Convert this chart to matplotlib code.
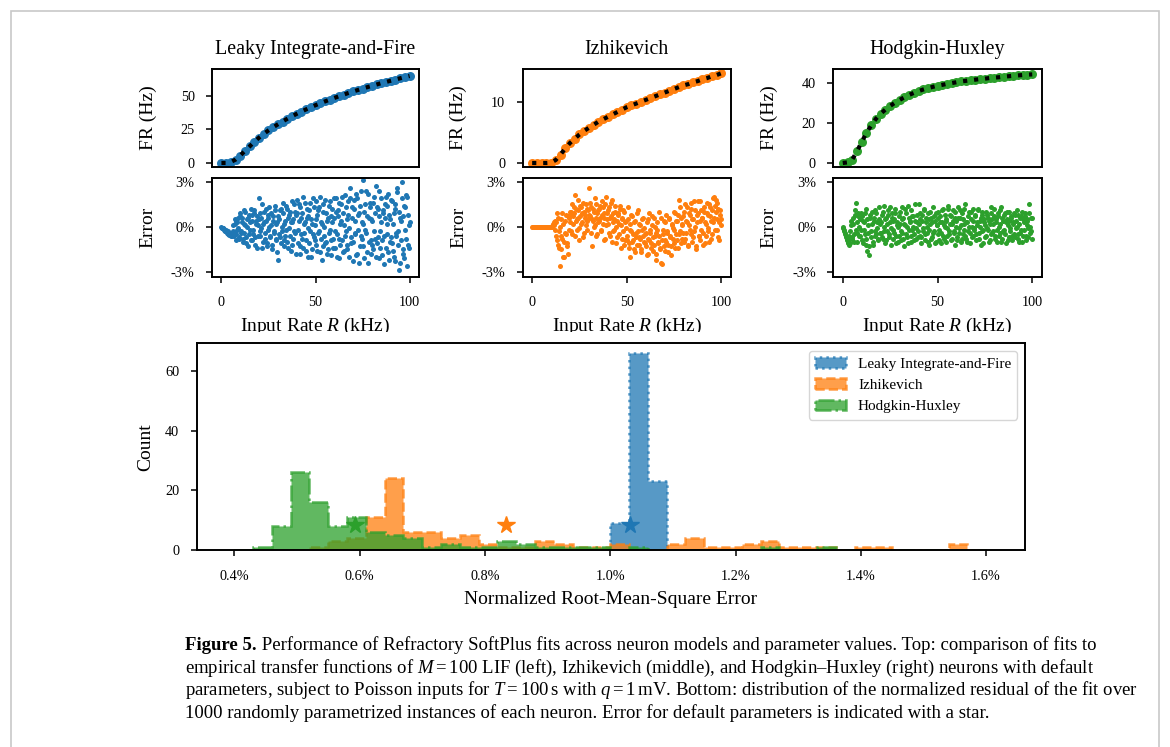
import numpy as np
import matplotlib
matplotlib.use("Agg")
import matplotlib.pyplot as plt
from matplotlib.ticker import FuncFormatter, FixedLocator
from matplotlib.patches import Rectangle
from matplotlib.transforms import Bbox, TransformedBbox

plt.rcParams['font.family'] = ['Liberation Serif', 'DejaVu Serif']
plt.rcParams['mathtext.fontset'] = 'custom'
plt.rcParams['mathtext.rm'] = 'Liberation Serif'
plt.rcParams['mathtext.it'] = 'Liberation Serif:italic'
plt.rcParams['mathtext.bf'] = 'Liberation Serif:bold'

# ---------------- data ----------------
MODELS = ["Leaky Integrate-and-Fire", "Izhikevich", "Hodgkin-Huxley"]
COLORS = ["#1f77b4", "#ff7f0e", "#2ca02c"]
HIST_STYLES = [":", "--", "-."]

# input-rate grid (kHz) for the transfer-function curves
FIT_RATE = np.linspace(0, 100, 41)
FR_LIF = [0, 0, 0.7, 2.5, 5.5, 9, 12.3, 15.8, 18.8, 21.6, 24.2, 26.5, 28.7, 30.8,
          32.8, 34.7, 36.5, 38.2, 39.8, 41.4, 42.9, 44.3, 45.7, 47, 48.3, 49.6,
          50.8, 52, 53.1, 54.2, 55.3, 56.3, 57.3, 58.3, 59.3, 60.2, 61.1, 62,
          62.9, 63.8, 64.6]
FR_IZH = [0, 0, 0, 0, 0.05, 0.5, 1.4, 2.4, 3.3, 4.0, 4.7, 5.3, 5.8, 6.3, 6.8,
          7.2, 7.6, 8.0, 8.4, 8.8, 9.2, 9.5, 9.8, 10.1, 10.4, 10.7, 11.0, 11.3,
          11.6, 11.9, 12.2, 12.5, 12.8, 13.0, 13.3, 13.5, 13.8, 14.0, 14.3,
          14.5, 14.8]
FR_HH = [0, 0.3, 1.7, 5.8, 10.5, 15, 18.7, 22, 24.5, 26.6, 28.4, 30, 31.4,
         32.7, 33.9, 34.9, 35.8, 36.6, 37.3, 37.9, 38.5, 38.9, 39.4, 39.8,
         40.2, 40.6, 40.9, 41.2, 41.5, 41.8, 42.0, 42.3, 42.5, 42.7, 43.0,
         43.2, 43.4, 43.6, 43.8, 44.0, 44.1]

# input-rate grids (kHz) for the residuals (two interleaved sample sets)
ERR_RATE_A = np.linspace(0, 100, 201)
ERR_RATE_B = np.linspace(0.25, 99.75, 200)
ERR_LIF_A = [
    0.0, -0.1, -0.1, -0.2, -0.3, -0.2, -0.4, -0.3, -0.5, -0.4, -0.6, -0.5, -0.3, -0.6, 0.2, -0.5, 0.4, -0.2, 0.6, -0.8,
    0.9, -0.4, 0.3, -1.0, 1.1, 0.1, -0.7, 0.5, -1.3, 0.8, -0.2, 1.2, -0.9, 0.4, -0.5, 0.9, -1.2, 0.2, 0.7, -0.6,
    1.9, -0.3, 0.6, -1.4, 0.2, 1.0, -0.8, 0.4, -1.1, 0.8, -0.2, 1.3, -0.6, 0.1, -1.5, 0.7, -0.4, 1.1, -0.9, 0.3,
    -2.2, 0.5, -0.7, 1.2, -0.3, 0.9, -1.3, 0.2, -0.6, 1.4, -1.0, 0.6, -0.1, 1.0, -1.6, 0.3, -0.8, 1.5, -0.4, 0.8,
    1.8, -1.1, 0.4, -1.8, 1.3, -0.5, 0.9, -1.4, 0.2, 1.6, -0.9, 0.6, -2.0, 1.1, -0.3, 0.5, -1.5, 1.9, -0.7, 0.1,
    1.7, -1.2, 0.8, -0.4, 1.3, -1.7, 0.3, -2.2, 1.0, -0.6, 1.8, -1.0, 0.4, -1.5, 1.4, -0.2, 0.7, -1.9, 1.2, -0.8,
    0.6, -1.4, 1.9, -0.5, 1.1, -2.1, 0.2, 1.5, -0.9, 0.9, -1.6, 2.1, -0.3, 0.5, -1.2, 1.7, -2.0, 2.6, -0.7, 1.3,
    -1.0, 1.8, -0.4, 2.2, -1.8, 0.8, -2.4, 1.4, -0.6, 0.3, 3.1, -1.3, 1.0, -0.2, 2.4, -1.7, -2.4, 0.6, 1.6, -0.9,
    0.4, -1.5, 2.0, -0.8, 2.7, -1.1, 1.2, -2.1, 0.7, -0.3, 1.9, -1.9, 0.9, -0.6, 1.5, -1.4, 0.2, 2.2, -2.2, 0.5,
    -0.7, 1.7, -1.6, 0.9, -2.3, 1.2, -0.4, 2.3, -1.2, -2.9, 0.6, -0.9, 3.0, -1.8, 1.4, -0.2, 2.1, -2.6, 0.8, -1.4,
    0.3]
ERR_LIF_B = [
    -0.05, -0.1, -0.15, -0.25, -0.3, -0.35, -0.45, -0.4, -0.55, -0.5, -0.45, -0.6, 0.1, -0.4, 0.5, -0.9, 0.3, -0.1, -0.7, 0.7,
    -0.3, 0.6, -0.8, 0.2, -0.4, 1.0, -1.1, 0.0, 0.6, -0.5, 0.3, -0.9, 0.8, -0.2, 1.1, -0.7, 0.4, -1.4, 0.1, 0.5,
    -0.6, 0.9, -0.1, 1.5, -1.0, 0.3, -0.4, 1.2, -1.3, 0.6, 0.0, -0.7, 0.9, -1.2, 0.4, -0.3, 1.4, -0.8, 0.2, -1.7,
    0.7, -0.5, 1.1, -1.1, 0.0, 1.6, -0.9, 0.4, -0.2, 1.2, -1.4, 0.8, -0.6, 0.3, 1.7, -1.2, 0.5, -0.3, 1.0, -1.8,
    0.9, -0.2, 1.5, -1.3, 0.6, -0.8, 2.0, -0.4, 0.3, -1.6, 1.2, -0.1, 0.7, -1.1, 1.6, -2.0, 0.2, -0.5, 1.3, -0.9,
    0.5, -1.6, 1.1, -0.3, 2.0, -0.8, 0.2, -1.3, 1.5, 0.0, -1.1, 0.9, -1.8, 0.6, -0.4, 1.7, -0.9, 0.3, -1.4, 1.9,
    -0.3, 1.0, -2.0, 0.7, -0.8, 1.6, -1.2, 0.4, 2.0, -1.7, 0.1, -0.6, 1.3, -1.5, 0.8, -0.1, 1.9, -1.1, 0.6, -2.3,
    1.2, -0.5, 0.4, -1.9, 1.9, -0.2, 0.9, -1.3, 2.4, -0.8, 0.2, -2.1, 1.5, -0.4, 0.7, 2.2, -1.0, 1.3, -1.8, 0.5,
    -1.2, 1.6, -0.3, 0.9, -2.0, 1.3, -0.7, 2.4, -1.4, 0.3, -0.9, 1.1, -2.5, 0.6, 2.0, -0.5, 1.4, -1.7, 0.8, -1.0,
    1.8, -1.1, 0.2, -2.0, 1.5, -0.6, 2.6, -0.3, 1.0, -2.4, 0.4, 1.9, -1.5, 0.7, -2.1, 1.3, -0.8, 2.0, -1.2, 0.1]
ERR_IZH_A = [
    0.0, 0.0, 0.0, 0.0, 0.0, 0.0, 0.0, 0.0, 0.0, 0.0, 0.0, 0.0, 0.0, 0.0, 0.0, 0.0, 0.0, 0.0, 0.0, 0.0,
    0.0, 0.0, 0.1, 0.3, 0.4, -0.6, 0.9, -1.2, -0.3, -2.6, 0.5, -1.5, -0.8, 0.2, -2.0, -0.4, 0.8, -1.1, -1.8, 0.6,
    0.3, 1.0, -0.5, 0.7, 1.3, 2.1, 0.4, -0.2, 1.1, 0.6, -0.9, 1.4, 0.2, 0.9, 1.6, -0.4, 0.8, 0.1, 1.2, 0.5,
    2.6, 0.7, 1.3, -1.3, 0.4, 1.0, 0.1, 1.5, -0.6, 0.9, 0.3, 1.2, 0.6, -0.3, 1.7, 0.2, 0.9, -0.8, 2.0, 0.5,
    1.1, -0.4, 0.6, 1.6, -1.0, 0.3, 0.9, -0.2, 1.4, 0.0, -0.7, 0.8, 0.2, 1.2, -1.4, 0.5, -0.3, 1.0, -0.9, 0.4,
    -0.6, 1.3, -1.1, 0.2, -2.0, -0.3, 0.7, -0.9, -1.5, 0.4, -0.4, -1.2, 1.1, -0.7, 0.1, -1.7, -0.2, 0.6, -1.0, -0.5,
    -1.3, 0.3, -0.8, -1.8, 0.9, -0.4, -1.1, 0.1, -1.6, 0.6, -0.6, -2.2, -0.2, -1.0, 1.0, -1.4, -2.4, -2.5, -0.5, 0.4,
    -0.9, -1.6, 0.8, -0.3, -1.2, 0.5, -0.7, -1.9, 0.2, -0.1, -1.1, 0.9, -0.5, 0.4, -1.4, 1.8, -0.3, 0.6, -0.8, 0.1,
    0.7, -1.0, 1.5, -0.4, 0.3, -1.3, 0.9, -0.2, 1.2, 0.5, -0.7, 1.7, 0.0, -1.5, 0.8, 1.7, -0.6, 0.4, -0.9, 1.1,
    0.6, -0.4, 1.3, -1.1, 0.2, 0.9, -0.3, 1.5, 0.7, -0.8, 1.1, 0.3, 2.0, 1.4, 1.8, -0.2, 0.5, 1.2, -0.9, 0.8,
    0.5]
ERR_IZH_B = [
    0.0, 0.0, 0.0, 0.0, 0.0, 0.0, 0.0, 0.0, 0.0, 0.0, 0.0, 0.0, 0.0, 0.0, 0.0, 0.0, 0.0, 0.0, 0.0, 0.0,
    0.0, 0.05, 0.2, 0.1, -0.2, 0.3, -0.9, 0.6, -1.4, 0.0, -0.6, 0.9, -2.0, -1.0, 0.4, -0.5, -1.3, 0.7, -0.2, 1.0,
    0.8, -0.3, 1.5, 0.2, 0.9, -0.6, 1.2, 0.5, 1.8, -0.1, 0.7, 1.3, 0.3, -0.7, 1.0, 0.6, 1.5, -0.2, 0.4, 1.1,
    0.8, 1.6, -0.4, 0.5, 1.2, 0.0, 1.9, 0.6, -0.5, 1.1, 0.4, 1.4, -0.2, 0.8, 1.3, -0.9, 0.6, 1.5, 0.1, 0.9,
    0.2, 1.3, -0.6, 0.7, 1.8, -0.3, 0.5, 1.0, -1.1, 0.4, 0.9, -0.5, 1.4, 0.1, -0.8, 0.6, 1.1, -1.2, 0.3, -0.1,
    -0.9, 0.5, -1.4, -0.2, 0.8, -1.0, -0.5, 0.3, -1.7, -0.7, 0.9, -0.3, -1.2, 0.2, -0.8, -1.5, 0.5, -0.6, -0.1, -1.1,
    -0.4, -1.9, 0.5, -0.9, -0.2, -1.4, 0.7, -0.7, -1.2, 0.0, -1.8, -0.4, 0.3, -1.1, -0.6, -1.5, 0.6, -0.9, -0.2, -1.3,
    0.3, -1.0, -0.4, -1.7, 0.6, -0.6, -1.3, 0.1, -0.8, 1.0, -0.2, -1.4, 0.4, -0.9, 0.8, -0.5, 1.3, -1.1, 0.2, -0.4,
    1.0, -0.8, 0.4, 1.3, -1.2, 0.1, 0.8, -0.5, 1.6, -1.0, 0.5, -0.3, 1.1, -1.3, 0.3, 0.9, -0.6, 1.7, -0.2, 0.6,
    -1.2, 1.0, 0.3, -0.6, 1.6, -0.1, 0.8, -1.0, 1.3, 0.4, -0.5, 1.9, 0.6, -0.2, 1.0, 1.6, -0.7, 0.3, 1.1, 0.1]
ERR_HH_A = [
    0.0, -0.2, -0.4, -0.6, -0.8, -1.1, -0.9, -1.2, -0.3, 0.4, -0.7, 0.2, -1.0, 0.8, 1.6, -0.4, 0.9, -0.6, 0.5, -0.2,
    0.7, -1.1, 0.3, -0.5, 1.2, -0.8, -1.6, 0.1, -1.9, 0.6, -0.3, 1.0, -1.2, 0.4, -0.6, 0.9, -0.1, -0.9, 1.3, 0.2,
    -0.4, 0.8, -0.8, 1.4, 0.0, -1.1, 0.6, -0.3, 1.1, -0.7, 0.3, -1.2, 0.9, -0.2, 0.5, 1.2, -0.6, 0.1, -1.0, 0.7,
    0.2, -0.9, 1.3, -0.4, 0.6, -1.3, 0.1, 0.9, -0.7, 1.4, -0.2, 0.4, -1.0, 0.7, 0.0, -0.5, 1.5, -0.8, 0.3, -0.3,
    1.5, -0.6, 0.5, -1.1, 0.8, -0.1, 1.1, -0.9, 0.3, -0.4, 0.9, -1.2, 0.2, 0.6, -0.7, 1.3, -0.3, 0.4, -1.0, 0.1,
    -0.5, 1.0, -0.2, 0.7, -1.1, 0.3, 1.2, -0.8, 0.0, 0.5, -0.6, 1.4, -0.3, 0.8, -0.9, 0.2, 1.1, -0.4, 0.6, -1.2,
    0.4, -0.7, 1.3, -0.1, 0.6, -1.0, 0.9, -0.5, 0.2, 1.5, -0.8, 0.3, -0.3, 1.0, -1.1, 0.5, 0.0, -0.6, 1.2, -0.2,
    0.7, -0.9, 0.1, 1.1, -0.4, 0.4, -1.2, 0.8, -0.2, 0.3, -0.7, 1.0, -0.1, 0.6, -1.0, 0.2, 0.9, -0.5, 0.5, -0.3,
    1.2, -0.6, 0.3, -1.0, 0.7, 0.0, -0.4, 1.3, -0.8, 0.4, -0.2, 0.9, -1.1, 0.5, 0.1, -0.7, 1.0, -0.3, 0.6, -0.9,
    0.3, -0.5, 0.8, -0.1, 1.1, -0.8, 0.2, -0.4, 0.7, -1.0, 0.5, -0.2, 0.9, -0.6, 0.1, 0.4, -0.7, 1.5, 0.0, -0.3,
    0.6]
ERR_HH_B = [
    -0.1, -0.3, -0.5, -0.7, -0.9, -1.0, -0.6, -1.1, 0.1, -0.8, 0.6, -0.5, 1.1, -0.2, 0.3, -1.0, 0.7, 0.0, -0.6, 0.9,
    -0.9, 0.4, -0.2, 0.9, -1.2, 0.5, -0.4, -1.3, 0.8, -0.7, 0.2, -1.0, 0.6, -0.3, 1.1, -0.5, 0.3, -0.8, 0.5, -0.4,
    0.3, -0.7, 1.0, -0.3, 0.5, -0.9, 0.2, 0.8, -0.5, 1.3, -0.1, 0.6, -0.8, 0.4, -0.4, 0.9, -1.1, 0.3, 0.0, -0.6,
    1.0, -0.3, 0.5, -0.8, 0.2, 1.2, -0.5, 0.0, -1.1, 0.6, 0.3, -0.6, 1.1, -0.2, 0.7, -0.9, 0.4, -0.1, 0.8, -0.7,
    0.2, 0.9, -0.7, 0.4, -0.3, 1.2, -0.5, 0.6, 0.0, -1.0, 0.5, -0.2, 1.0, -0.8, 0.3, -0.4, 0.7, -1.1, 0.9, 0.1,
    0.6, -0.9, 0.3, -0.4, 1.1, -0.6, 0.1, 0.8, -1.0, 0.4, -0.1, 1.2, -0.5, 0.2, 0.7, -0.8, 0.4, -0.3, 1.0, 0.0,
    -0.9, 0.6, -0.4, 1.1, 0.1, -0.8, 0.5, -0.2, 1.2, -0.6, 0.3, -1.0, 0.7, 0.0, -0.4, 1.0, -0.7, 0.4, -0.1, 0.8,
    -0.5, 0.3, 1.2, -0.8, 0.0, 0.6, -0.3, 1.0, -1.1, 0.5, 0.1, -0.6, 0.8, -0.2, 0.4, -0.9, 1.3, -0.4, 0.2, 0.7,
    -0.8, 0.5, -0.2, 0.9, -0.6, 1.1, 0.2, -1.0, 0.6, -0.3, 0.8, -0.5, 0.3, 1.0, -0.9, 0.4, -0.1, 0.7, -0.6, 0.2,
    0.9, -0.7, 0.4, 0.0, -0.5, 0.8, -1.0, 0.6, -0.2, 1.0, -0.6, 0.3, 0.7, -0.9, 0.5, -0.1, 0.9, -0.4, 0.6, -0.8]

FR_DATA = [FR_LIF, FR_IZH, FR_HH]
ERR_DATA_A = [ERR_LIF_A, ERR_IZH_A, ERR_HH_A]
ERR_DATA_B = [ERR_LIF_B, ERR_IZH_B, ERR_HH_B]
FR_TICKS = [[0, 25, 50], [0, 10], [0, 20, 40]]
FR_YLIM = [(-3, 69.8), (-0.66, 15.5), (-2, 46.8)]
ERR_TICKS = [-3, 0, 3]
RATE_TICKS = [0, 50, 100]

# histogram of NRMSE (%) over randomly parametrised neurons
BIN_EDGES = np.round(np.linspace(0.40, 1.60, 41), 2)
COUNT_LIF = [0, 0, 0, 0, 0, 0, 0, 0, 0, 0,
             0, 0, 0, 0, 0, 0, 0, 0, 0, 0,
             9, 66, 23, 0, 0, 0, 0, 0, 0, 0,
             0, 0, 0, 0, 0, 0, 0, 0, 0, 0]
COUNT_IZH = [0, 0, 0, 0, 1, 3, 4, 11, 24, 6,
             6, 4, 5, 2, 1, 1, 3, 2, 1, 1,
             2, 0, 0, 2, 4, 1, 1, 2, 3, 1,
             1, 1, 0, 1, 1, 0, 0, 0, 2, 0]
COUNT_HH = [0, 1, 8, 26, 16, 8, 11, 6, 5, 4,
            1, 2, 1, 1, 3, 2, 1, 1, 1, 1,
            0, 1, 0, 0, 0, 0, 0, 0, 1, 0,
            0, 1, 0, 0, 0, 0, 0, 0, 0, 0]
HIST_COUNTS = [COUNT_LIF, COUNT_IZH, COUNT_HH]
DEFAULT_NRMSE = [1.032, 0.833, 0.593]
STAR_COUNT = 8.5
NRMSE_TICKS = [0.4, 0.6, 0.8, 1.0, 1.2, 1.4, 1.6]
COUNT_TICKS = [0, 20, 40, 60]

CAPTION_BOLD = "Figure 5."
CAPTION_LINES = [
    " Performance of Refractory SoftPlus fits across neuron models and parameter values. Top: comparison of fits to",
    "empirical transfer functions of $M = 100$ LIF (left), Izhikevich (middle), and Hodgkin\u2013Huxley (right) neurons with default",
    "parameters, subject to Poisson inputs for $T = 100\\,$s with $q = 1\\,$mV. Bottom: distribution of the normalized residual of the fit over",
    "1000 randomly parametrized instances of each neuron. Error for default parameters is indicated with a star.",
]

# ---------------- figure ----------------
W, H = 1170, 747
fig = plt.figure(figsize=(W / 100, H / 100), dpi=100)
fig.patch.set_facecolor('white')


def rect(left, top, right, bottom):
    return [left / W, 1 - bottom / H, (right - left) / W, (bottom - top) / H]


fig.add_artist(Rectangle((11 / W, 1 - 770 / H), (1159 - 11) / W, (770 - 11) / H,
                         transform=fig.transFigure, fill=False,
                         edgecolor='#c8c8c8', linewidth=1.2))

SPINE_LW = 1.4
lefts = [212, 522.7, 833.3]
rights = [419, 730.7, 1041.7]
TICK_FS = 10.3
LABEL_FS = 14
TITLE_FS = 14.4

for i in range(3):
    ax_fr = fig.add_axes(rect(lefts[i], 69, rights[i], 167))
    ax_er = fig.add_axes(rect(lefts[i], 178, rights[i], 277), sharex=ax_fr)

    ax_fr.scatter(FIT_RATE, FR_DATA[i], s=42, color=COLORS[i], linewidths=0, zorder=2)
    ax_fr.plot(FIT_RATE, FR_DATA[i], ls=':', color='black', lw=3.0, zorder=3)
    ax_er.scatter(ERR_RATE_A, ERR_DATA_A[i], s=13, color=COLORS[i], linewidths=0, zorder=2)
    ax_er.scatter(ERR_RATE_B, ERR_DATA_B[i], s=13, color=COLORS[i], linewidths=0, zorder=2)

    ax_fr.set_xlim(-5, 105)
    ax_fr.set_ylim(*FR_YLIM[i])
    ax_er.set_ylim(-3.35, 3.25)
    ax_fr.yaxis.set_major_locator(FixedLocator(FR_TICKS[i]))
    ax_er.yaxis.set_major_locator(FixedLocator(ERR_TICKS))
    ax_er.yaxis.set_major_formatter(FuncFormatter(lambda v, p: f"{int(round(v))}%"))
    ax_er.xaxis.set_major_locator(FixedLocator(RATE_TICKS))
    ax_fr.tick_params(axis='x', bottom=False, labelbottom=False)
    for ax in (ax_fr, ax_er):
        ax.tick_params(axis='both', direction='out', length=4.5, width=1.1,
                       labelsize=TICK_FS, pad=8)
        for s in ax.spines.values():
            s.set_linewidth(SPINE_LW)
    ax_er.tick_params(axis='x', pad=9)

    ax_fr.set_title(MODELS[i], fontsize=TITLE_FS, pad=11)
    ax_fr.set_ylabel("FR (Hz)", fontsize=LABEL_FS)
    ax_er.set_ylabel("Error", fontsize=LABEL_FS)
    ax_fr.yaxis.set_label_coords(-0.267, 0.5)
    ax_er.yaxis.set_label_coords(-0.267, 0.5)
    xl = ax_er.set_xlabel("Input Rate $R$ (kHz)", fontsize=LABEL_FS, labelpad=5)
    xl.set_clip_box(TransformedBbox(Bbox([[0, 1 - 332 / H], [1, 1]]), fig.transFigure))
    xl.set_clip_on(True)

# histogram
axh = fig.add_axes(rect(196.7, 343.3, 1025, 550))
for i in range(3):
    axh.hist(BIN_EDGES[:-1], bins=BIN_EDGES, weights=HIST_COUNTS[i],
             histtype='stepfilled', facecolor=COLORS[i], edgecolor=COLORS[i],
             alpha=0.75, linestyle=HIST_STYLES[i], linewidth=1.8, label=MODELS[i])
for i in range(3):
    axh.plot([DEFAULT_NRMSE[i]], [STAR_COUNT], marker='*', ms=13,
             color=COLORS[i], ls='none', zorder=5)
axh.set_xlim(0.34, 1.662)
axh.set_ylim(0, 69.3)
axh.xaxis.set_major_locator(FixedLocator(NRMSE_TICKS))
axh.xaxis.set_major_formatter(FuncFormatter(lambda v, p: f"{v:.1f}%"))
axh.yaxis.set_major_locator(FixedLocator(COUNT_TICKS))
axh.tick_params(axis='both', direction='out', length=4.5, width=1.1,
                labelsize=TICK_FS, pad=8)
axh.tick_params(axis='x', pad=10)
for s in axh.spines.values():
    s.set_linewidth(SPINE_LW)
axh.set_xlabel("Normalized Root-Mean-Square Error", fontsize=LABEL_FS, labelpad=6)
axh.set_ylabel("Count", fontsize=LABEL_FS, labelpad=8)
axh.legend(loc='upper right', fontsize=11, framealpha=0.8, edgecolor='#cccccc',
           borderaxespad=0.5)

# caption
CAP_FS = 13.5
cap_x = 185 / W
base_y = [650, 672.5, 695, 717.5]
fig.canvas.draw()
bold = fig.text(cap_x, 1 - base_y[0] / H, CAPTION_BOLD, fontsize=CAP_FS,
                fontweight='bold', va='baseline', ha='left')
renderer = fig.canvas.get_renderer()
bb = bold.get_window_extent(renderer=renderer)
fig.text(bb.x1 / W, 1 - base_y[0] / H, CAPTION_LINES[0], fontsize=CAP_FS,
         va='baseline', ha='left')
for j in range(1, 4):
    fig.text(cap_x, 1 - base_y[j] / H, CAPTION_LINES[j], fontsize=CAP_FS,
             va='baseline', ha='left')

fig.savefig("out.png", dpi=100)
